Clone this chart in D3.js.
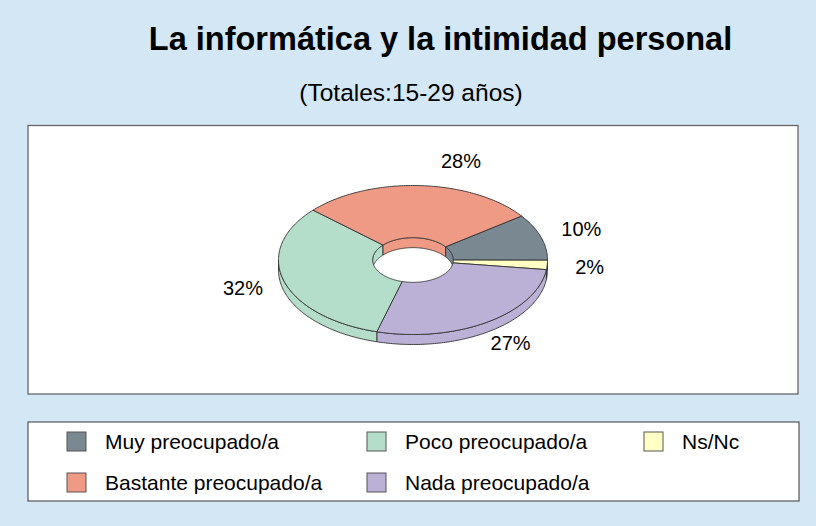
<!DOCTYPE html>
<html>
<head>
<meta charset="utf-8">
<script src="https://cdn.jsdelivr.net/npm/d3@7"></script>
<style>
  html, body { margin: 0; padding: 0; background: #D4E7F5; }
  svg { display: block; }
  text { font-family: "Liberation Sans", Arial, sans-serif; fill: #000; }
</style>
</head>
<body>
<svg id="chart" width="816" height="526"></svg>
<script>
// ---------- data ----------
const titleText = "La informática y la intimidad personal";
const subtitleText = "(Totales:15-29 años)";
const categories = ["Muy preocupado/a", "Ns/Nc", "Nada preocupado/a", "Poco preocupado/a", "Bastante preocupado/a"];
const values = [10, 2, 27, 32, 28];
const colors = ["#7A8892", "#FFFFC6", "#BBB1D6", "#B4DEC9", "#EE9A85"];
const legendOrder = ["Muy preocupado/a", "Bastante preocupado/a", "Poco preocupado/a", "Nada preocupado/a", "Ns/Nc"];

// ---------- layout ----------
const W = 816, H = 526;
const cx = 413, cy = 260, rx = 134.5, ry = 74.5, holeRatio = 0.3, depth = 10;
const startDeg = 53.8;
const labelRx = 177, labelRy = 99;
const labelShift = { "Bastante preocupado/a": [39, 0] };
const legendCols = [67, 367, 644], legendRows = [432, 473];

const svg = d3.select("#chart");
svg.append("rect").attr("width", W).attr("height", H).attr("fill", "#D4E7F5");

// title
svg.append("text").attr("x", 440.5).attr("y", 50).attr("text-anchor", "middle")
  .style("font-size", "32.5px").style("font-weight", "bold").text(titleText);
svg.append("text").attr("x", 411).attr("y", 101).attr("text-anchor", "middle")
  .style("font-size", "24.5px").text(subtitleText);

// plot area box
svg.append("rect").attr("x", 28).attr("y", 125.5).attr("width", 770).attr("height", 268.5)
  .attr("fill", "#fff").attr("stroke", "#666").attr("stroke-width", 1.3);

// legend box
svg.append("rect").attr("x", 28).attr("y", 422).attr("width", 771).attr("height", 79)
  .attr("fill", "#fff").attr("stroke", "#555").attr("stroke-width", 1.2);

// ---------- pie ----------
const color = d3.scaleOrdinal().domain(categories).range(colors);
const start = startDeg * Math.PI / 180;
const pie = d3.pie().sort(null).value(d => d.value).startAngle(start).endAngle(start + 2 * Math.PI);
const arcs = pie(categories.map((c, i) => ({ cat: c, value: values[i] })));

const irx = rx * holeRatio, iry = ry * holeRatio;
function pt(a, Rx, Ry, dy) { return [cx + Rx * Math.sin(a), cy - Ry * Math.cos(a) + (dy || 0)]; }
function samples(a0, a1, Rx, Ry, dy) {
  const n = Math.max(2, Math.ceil(Math.abs(a1 - a0) / (Math.PI / 180)) + 1);
  return d3.range(n).map(i => pt(a0 + (a1 - a0) * i / (n - 1), Rx, Ry, dy));
}
const line = d3.line().curve(d3.curveLinear);
function closed(points) { return line(points) + "Z"; }

function clipRanges(a0, a1, ranges) {
  const out = [];
  ranges.forEach(([r0, r1]) => {
    const s = Math.max(a0, r0), e = Math.min(a1, r1);
    if (e > s + 1e-6) out.push([s, e]);
  });
  return out;
}
const front = [[Math.PI / 2, 3 * Math.PI / 2], [5 * Math.PI / 2, 7 * Math.PI / 2]];
const back = [[-Math.PI / 2, Math.PI / 2], [3 * Math.PI / 2, 5 * Math.PI / 2]];

const g = svg.append("g").attr("stroke", "#333").attr("stroke-width", 0.9).attr("stroke-linejoin", "round");

// inner (hole) walls, back half
arcs.forEach(d => {
  clipRanges(d.startAngle, d.endAngle, back).forEach(([s, e]) => {
    const p = samples(s, e, irx, iry, 0).concat(samples(e, s, irx, iry, depth));
    g.append("path").attr("d", closed(p)).attr("fill", color(d.data.cat));
  });
});
// outer walls, front half
arcs.forEach(d => {
  clipRanges(d.startAngle, d.endAngle, front).forEach(([s, e]) => {
    const p = samples(s, e, rx, ry, 0).concat(samples(e, s, rx, ry, depth));
    g.append("path").attr("d", closed(p)).attr("fill", color(d.data.cat));
  });
});
// top faces
arcs.forEach(d => {
  const p = samples(d.startAngle, d.endAngle, rx, ry, 0)
    .concat(samples(d.endAngle, d.startAngle, irx, iry, 0));
  g.append("path").attr("d", closed(p)).attr("fill", color(d.data.cat));
});

// labels
const fmt = d3.format(".0f");
arcs.forEach(d => {
  const m = (d.startAngle + d.endAngle) / 2;
  const [lx, ly] = pt(m, labelRx, labelRy, 0);
  const sh = labelShift[d.data.cat] || [0, 0];
  svg.append("text").attr("x", lx + sh[0]).attr("y", ly + sh[1])
    .attr("text-anchor", "middle").attr("dominant-baseline", "central")
    .style("font-size", "20px").text(fmt(d.data.value) + "%");
});

// legend
legendOrder.forEach((c, i) => {
  const col = Math.floor(i / 2), row = i % 2;
  const x = legendCols[col], y = legendRows[row];
  svg.append("rect").attr("x", x).attr("y", y).attr("width", 19).attr("height", 19)
    .attr("fill", color(c)).attr("stroke", "#555").attr("stroke-width", 1);
  svg.append("text").attr("x", x + 38).attr("y", y + 17).style("font-size", "21px").text(c);
});
</script>
</body>
</html>
